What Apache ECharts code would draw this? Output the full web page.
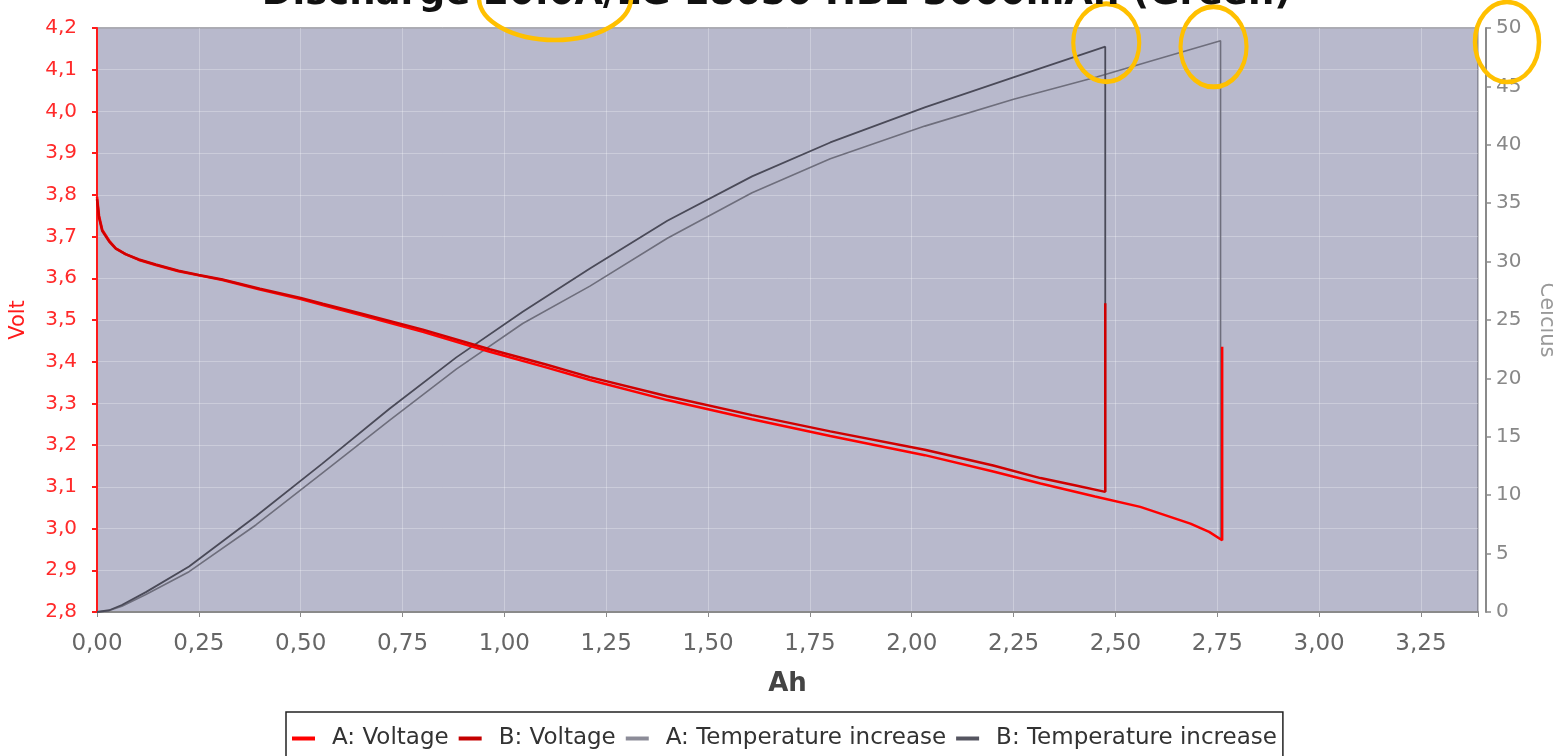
<!DOCTYPE html>
<html>
<head>
<meta charset="utf-8">
<script src="https://cdn.jsdelivr.net/npm/echarts@6/dist/echarts.min.js"></script>
<style>
html,body{margin:0;padding:0;background:#fff;}
#chart{width:1553px;height:756px;}
</style>
</head>
<body>
<div id="chart"></div>
<script>
// ---- data ----
const titleText = 'Discharge 20.0A/LG 18650 HB2 3000mAh (Green)';
const seriesNames = ['A: Voltage', 'B: Voltage', 'A: Temperature increase', 'B: Temperature increase'];

const ahVoltA = [0, 0.005, 0.013, 0.03, 0.046, 0.07, 0.103, 0.144, 0.2, 0.25, 0.308, 0.4, 0.5, 0.554, 0.65, 0.8, 0.964, 1.1, 1.21, 1.4, 1.608, 1.8, 2.032, 2.2, 2.316, 2.45, 2.561, 2.684, 2.73, 2.762, 2.762];
const voltA   = [3.795, 3.75, 3.716, 3.69, 3.672, 3.658, 3.644, 3.632, 3.617, 3.607, 3.596, 3.573, 3.55, 3.536, 3.511, 3.472, 3.424, 3.387, 3.356, 3.308, 3.262, 3.222, 3.176, 3.137, 3.108, 3.077, 3.052, 3.012, 2.992, 2.972, 3.436];

const ahVoltB = [0, 0.005, 0.013, 0.03, 0.046, 0.07, 0.103, 0.144, 0.2, 0.25, 0.308, 0.4, 0.5, 0.554, 0.65, 0.8, 0.964, 1.1, 1.21, 1.4, 1.608, 1.8, 2.032, 2.2, 2.316, 2.4, 2.475, 2.475];
const voltB   = [3.79, 3.745, 3.713, 3.688, 3.671, 3.658, 3.645, 3.633, 3.618, 3.608, 3.597, 3.575, 3.553, 3.539, 3.515, 3.477, 3.43, 3.394, 3.363, 3.317, 3.272, 3.233, 3.189, 3.151, 3.121, 3.104, 3.088, 3.54];

const ahTempA = [0, 0.03, 0.061, 0.12, 0.226, 0.39, 0.553, 0.718, 0.882, 1.045, 1.21, 1.4, 1.608, 1.8, 2.032, 2.25, 2.454, 2.6, 2.758, 2.758];
const tempA   = [0, 0.12, 0.5, 1.5, 3.45, 7.45, 11.9, 16.4, 20.8, 24.7, 27.9, 32.0, 35.9, 38.8, 41.6, 43.9, 45.8, 47.3, 48.9, 6.2];

const ahTempB = [0, 0.03, 0.061, 0.12, 0.226, 0.39, 0.553, 0.718, 0.882, 1.045, 1.21, 1.4, 1.608, 1.8, 2.032, 2.244, 2.475, 2.475];
const tempB   = [0, 0.15, 0.6, 1.7, 3.9, 8.2, 12.7, 17.4, 21.8, 25.7, 29.4, 33.5, 37.3, 40.2, 43.2, 45.7, 48.4, 10.3];

const xMin = 0, xMax = 3.39, xStep = 0.25;
const vMin = 2.8, vMax = 4.2, vStep = 0.1;
const tMin = 0, tMax = 50, tStep = 5;

// ---- build ----
const zip = (xs, ys) => xs.map((x, i) => [x, ys[i]]);
const FONT = 'DejaVu Sans';
const ring = {
  symbol: 'circle',
  itemStyle: { color: 'rgba(0,0,0,0)', borderColor: '#ffc000', borderWidth: 4.5 },
  label: { show: false },
  silent: true
};
const lineCommon = { type: 'line', showSymbol: false, symbol: 'none', smooth: false };

const chart = echarts.init(document.getElementById('chart'), null, { renderer: 'canvas' });
chart.setOption({
  animation: false,
  backgroundColor: '#ffffff',
  title: {
    text: titleText,
    left: 'center',
    top: -29,
    textStyle: { fontFamily: FONT, fontSize: 37, fontWeight: 'bold', color: '#111' }
  },
  grid: {
    left: 97, right: 75, top: 28, bottom: 144,
    outerBoundsMode: 'none',
    containLabel: false,
    show: true, backgroundColor: '#b8b9cc', borderColor: '#5a5a66', borderWidth: 1
  },
  legend: {
    data: seriesNames,
    left: 286,
    top: 712,
    icon: 'rect',
    itemWidth: 23, itemHeight: 4, itemGap: 10,
    backgroundColor: '#ffffff', borderColor: '#222', borderWidth: 1.5, borderRadius: 0,
    padding: [15, 6, 30, 6],
    textStyle: { fontFamily: FONT, fontSize: 23, color: '#333', padding: [0, 0, 0, 12] }
  },
  xAxis: {
    type: 'value', min: xMin, max: xMax, interval: xStep,
    offset: 9,
    name: 'Ah', nameLocation: 'middle', nameGap: 50, nameMoveOverlap: false,
    nameTextStyle: { fontFamily: FONT, fontSize: 26, fontWeight: 'bold', color: '#444' },
    axisLine: { show: true, lineStyle: { color: '#8a8a8a', width: 2 } },
    axisTick: { show: true, length: 5, lineStyle: { color: '#8a8a8a' } },
    axisLabel: {
      margin: 12, fontFamily: FONT, fontSize: 23, color: '#666',
      formatter: v => (Math.round(v * 100) % 25 === 0) ? v.toFixed(2).replace('.', ',') : ''
    },
    splitLine: { show: true, lineStyle: { color: 'rgba(255,255,255,0.28)', width: 1 } }
  },
  yAxis: [{
    type: 'value', min: vMin, max: vMax, interval: vStep, position: 'left',
    offset: 8,
    name: 'Volt', nameLocation: 'middle', nameGap: 60, nameRotate: 90, nameMoveOverlap: false,
    nameTextStyle: { fontFamily: FONT, fontSize: 21, color: '#ff1a1a' },
    axisLine: { show: true, lineStyle: { color: '#ff1a1a', width: 2 } },
    axisTick: { show: true, length: 5, lineStyle: { color: '#ff1a1a', width: 2 } },
    axisLabel: {
      margin: 12, fontFamily: FONT, fontSize: 20, color: '#ff2a2a',
      formatter: v => v.toFixed(1).replace('.', ',')
    },
    splitLine: { show: true, lineStyle: { color: 'rgba(255,255,255,0.28)', width: 1 } }
  }, {
    type: 'value', min: tMin, max: tMax, interval: tStep, position: 'right',
    offset: 8,
    name: 'Celcius', nameLocation: 'middle', nameGap: 50, nameRotate: -90, nameMoveOverlap: false,
    nameTextStyle: { fontFamily: FONT, fontSize: 21, color: '#999' },
    axisLine: { show: true, lineStyle: { color: '#8a8a8a', width: 2 } },
    axisTick: { show: true, length: 5, lineStyle: { color: '#8a8a8a', width: 1.5 } },
    axisLabel: { margin: 10, fontFamily: FONT, fontSize: 20, color: '#888' },
    splitLine: { show: false }
  }],
  series: [Object.assign({}, lineCommon, {
    name: seriesNames[0], yAxisIndex: 0, z: 4,
    data: zip(ahVoltA, voltA),
    color: '#ff0000', lineStyle: { color: '#ff0000', width: 2.5 }
  }), Object.assign({}, lineCommon, {
    name: seriesNames[1], yAxisIndex: 0, z: 4,
    data: zip(ahVoltB, voltB),
    color: '#c40000', lineStyle: { color: '#d00000', width: 2.5 }
  }), Object.assign({}, lineCommon, {
    name: seriesNames[2], yAxisIndex: 1, z: 3,
    data: zip(ahTempA, tempA),
    color: '#8c8c98', lineStyle: { color: '#6e6e7c', width: 1.6 },
    markPoint: Object.assign({}, ring, {
      symbolSize: [66, 80], symbolOffset: [-7, 6],
      data: [{ type: 'max', valueDim: 'y' }]
    })
  }), Object.assign({}, lineCommon, {
    name: seriesNames[3], yAxisIndex: 1, z: 3,
    data: zip(ahTempB, tempB),
    color: '#555560', lineStyle: { color: '#4a4a58', width: 1.8 },
    markPoint: Object.assign({}, ring, {
      symbolSize: [66, 78], symbolOffset: [1, -4],
      data: [{ type: 'max', valueDim: 'y' }]
    })
  })],
  graphic: [{
    type: 'ellipse', silent: true, z: 100,
    shape: { cx: 555, cy: -2, rx: 76, ry: 42 },
    style: { fill: null, stroke: '#ffc000', lineWidth: 4.5 }
  }, {
    type: 'ellipse', silent: true, z: 100,
    shape: { cx: 1507, cy: 42, rx: 32, ry: 40 },
    style: { fill: null, stroke: '#ffc000', lineWidth: 4.5 }
  }]
});
</script>
</body>
</html>
